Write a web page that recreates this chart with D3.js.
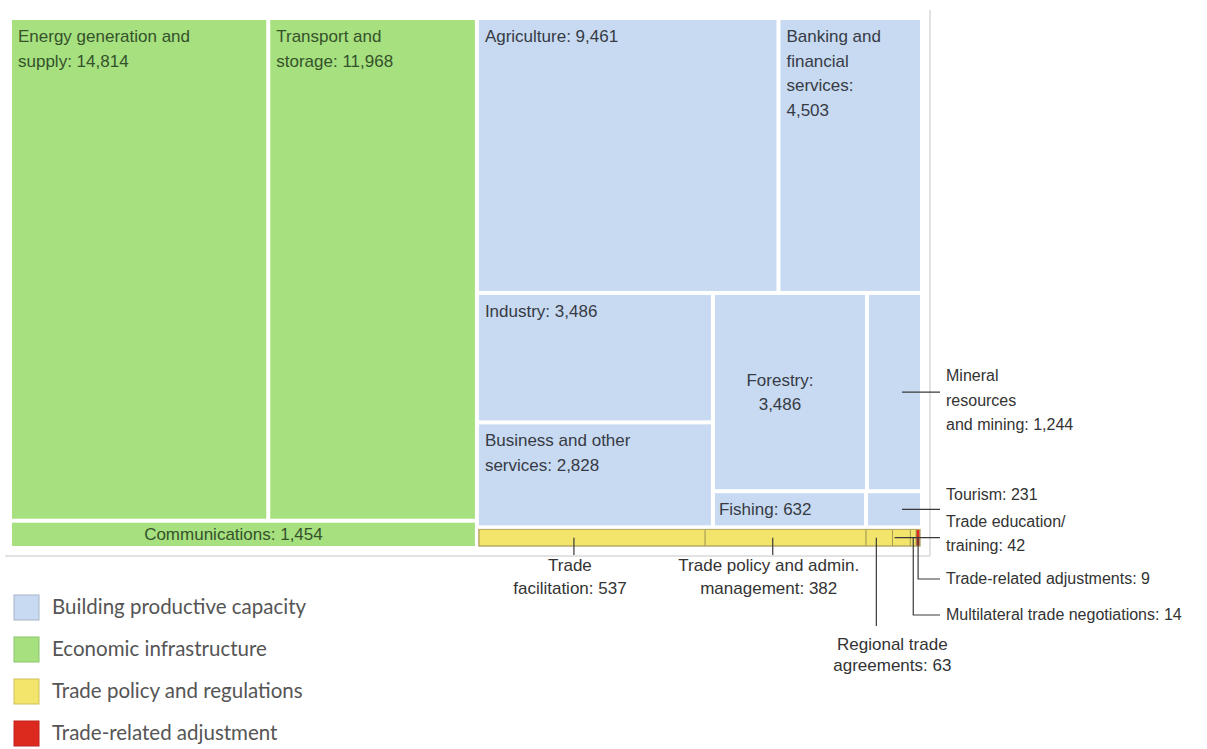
<!DOCTYPE html>
<html>
<head>
<meta charset="utf-8">
<script src="https://cdn.jsdelivr.net/npm/d3@7"></script>
<style>
  body { margin: 0; background: #fff; }
  svg { display: block; }
</style>
</head>
<body>
<svg id="chart" width="1207" height="749"></svg>
<script>
// ---- Aid for Trade commitments by sector ----
const infraNames = ["Energy generation and supply", "Transport and storage", "Communications"];
const infraValues = [14814, 11968, 1454];

const productiveNames = ["Agriculture", "Banking and financial services", "Industry",
  "Business and other services", "Forestry", "Mineral resources and mining", "Fishing", "Tourism"];
const productiveValues = [9461, 4503, 3486, 2828, 3486, 1244, 632, 231];

const policyNames = ["Trade facilitation", "Trade policy and admin. management",
  "Regional trade agreements", "Trade education/training", "Multilateral trade negotiations"];
const policyValues = [537, 382, 63, 42, 14];

const adjustmentNames = ["Trade-related adjustments"];
const adjustmentValues = [9];

const legendLabels = ["Building productive capacity", "Economic infrastructure",
  "Trade policy and regulations", "Trade-related adjustment"];

// Wrapped label text; "#" is replaced by the formatted value
const labelLines = {
  "Energy generation and supply": ["Energy generation and", "supply: #"],
  "Transport and storage": ["Transport and", "storage: #"],
  "Communications": ["Communications: #"],
  "Agriculture": ["Agriculture: #"],
  "Banking and financial services": ["Banking and", "financial", "services:", "#"],
  "Industry": ["Industry: #"],
  "Business and other services": ["Business and other", "services: #"],
  "Forestry": ["Forestry:", "#"],
  "Mineral resources and mining": ["Mineral", "resources", "and mining: #"],
  "Fishing": ["Fishing: #"],
  "Tourism": ["Tourism: #"],
  "Trade facilitation": ["Trade", "facilitation: #"],
  "Trade policy and admin. management": ["Trade policy and admin.", "management: #"],
  "Regional trade agreements": ["Regional trade", "agreements: #"],
  "Trade education/training": ["Trade education/", "training: #"],
  "Multilateral trade negotiations": ["Multilateral trade negotiations: #"],
  "Trade-related adjustments": ["Trade-related adjustments: #"]
};

// How each label is placed relative to its tile
const labelMode = {
  "Energy generation and supply": "topleft",
  "Transport and storage": "topleft",
  "Communications": "center",
  "Agriculture": "topleft",
  "Banking and financial services": "topleft",
  "Industry": "topleft",
  "Business and other services": "topleft",
  "Forestry": "center",
  "Fishing": "midleft",
  "Mineral resources and mining": "right",
  "Tourism": "right",
  "Trade education/training": "right",
  "Trade-related adjustments": "elbow",
  "Multilateral trade negotiations": "elbow",
  "Trade facilitation": "below",
  "Trade policy and admin. management": "below",
  "Regional trade agreements": "below"
};

const colors = {
  productive: "#c8daf1",
  infra: "#a6e07f",
  policy: "#f3e46c",
  adjust: "#dc2a1f"
};
const swatchStroke = {
  productive: "#a7b4c6",
  infra: "#8cc56c",
  policy: "#cfc25a",
  adjust: "#c0211a"
};
const legendKeys = ["productive", "infra", "policy", "adjust"];

const fmt = d3.format(",");

// ---- hierarchy: grouping nodes only steer the nested dice/slice layout ----
const leaf = (names, values, cat) => i => ({ name: names[i], value: values[i], cat });
const I = leaf(infraNames, infraValues, "infra");
const P = leaf(productiveNames, productiveValues, "productive");
const T = leaf(policyNames, policyValues, "policy");
const A = leaf(adjustmentNames, adjustmentValues, "adjust");

const tree = { dir: "h", children: [
  { dir: "v", children: [
    { dir: "h", children: [I(0), I(1)] },
    I(2)
  ]},
  { dir: "v", children: [
    { dir: "v", children: [
      { dir: "h", children: [P(0), P(1)] },
      { dir: "h", children: [
        { dir: "v", children: [P(2), P(3)] },
        { dir: "v", children: [
          { dir: "h", children: [P(4), P(5)] },
          { dir: "h", children: [P(6), P(7)] }
        ]}
      ]}
    ]},
    { dir: "h", strip: true, children: [T(0), T(1), T(2), T(3), T(4), A(0)] }
  ]}
]};

const area = { x: 12, y: 20, w: 908, h: 526 };

const root = d3.hierarchy(tree).sum(d => d.value || 0);
d3.treemap()
  .size([area.w, area.h])
  .paddingInner(n => n.data.strip ? 0 : 4)
  .tile((node, x0, y0, x1, y1) =>
    (node.data.dir === "h" ? d3.treemapDice : d3.treemapSlice)(node, x0, y0, x1, y1))
  (root);

const svg = d3.select("#chart");

// light frame on the right and bottom
const frame = { right: 930, bottom: 556, top: 10, left: 5 };
svg.append("line").attr("x1", frame.right).attr("x2", frame.right)
  .attr("y1", frame.top).attr("y2", frame.bottom)
  .attr("stroke", "#e2e2e2").attr("stroke-width", 2);
svg.append("line").attr("x1", frame.left).attr("x2", frame.right)
  .attr("y1", frame.bottom).attr("y2", frame.bottom)
  .attr("stroke", "#e2e2e2").attr("stroke-width", 2);

const g = svg.append("g").attr("transform", `translate(${area.x},${area.y})`);

const leaves = root.leaves();

g.selectAll("rect.tile")
  .data(leaves)
  .join("rect")
  .attr("class", "tile")
  .attr("x", d => d.x0)
  .attr("y", d => d.y0)
  .attr("width", d => Math.max(0, d.x1 - d.x0))
  .attr("height", d => Math.max(0, d.y1 - d.y0))
  .attr("fill", d => colors[d.data.cat])
  .attr("stroke", d => (d.data.cat === "policy" || d.data.cat === "adjust") ? "#9f9350" : "none")
  .attr("stroke-width", 0.8);

// outline of the trade-policy strip
const strip = root.descendants().find(d => d.data.strip);
g.append("rect")
  .attr("x", strip.x0).attr("y", strip.y0)
  .attr("width", strip.x1 - strip.x0).attr("height", strip.y1 - strip.y0)
  .attr("fill", "none").attr("stroke", "#b9ad6a").attr("stroke-width", 1);

// ---- labels ----
const fontFamily = "'Liberation Sans', Arial, sans-serif";
const innerSize = 17;      // labels inside tiles and below the strip
const calloutSize = 16;    // labels to the right of the chart
const lineH = 24.5;
const calloutX = frame.right + 16;     // start of right-hand callout text
const leader = "#3a3a3a";

function lines(d) {
  return labelLines[d.data.name].map(s => s.replace("#", fmt(d.data.value)));
}
function textColor(d) {
  return d.data.cat === "infra" ? "#35522b" : "#363b45";
}
function addText(sel, arr, x, y, anchor, color, size, lh = lineH) {
  const t = sel.append("text")
    .attr("font-family", fontFamily)
    .attr("font-size", size)
    .attr("fill", color)
    .attr("text-anchor", anchor);
  arr.forEach((s, i) => t.append("tspan").attr("x", x).attr("y", y + i * lh).text(s));
  return t;
}
function line(pts) {
  g.append("path")
    .attr("d", d3.line()(pts))
    .attr("fill", "none")
    .attr("stroke", leader)
    .attr("stroke-width", 1.2);
}

const ox = area.x;

leaves.forEach(d => {
  const mode = labelMode[d.data.name];
  const L = lines(d);
  const cx = (d.x0 + d.x1) / 2, cy = (d.y0 + d.y1) / 2;
  const tx = calloutX - ox;   // callout text x in group coords
  if (mode === "topleft") {
    addText(g, L, d.x0 + 6, d.y0 + 22, "start", textColor(d), innerSize);
  } else if (mode === "center") {
    const y = cy - (L.length - 1) * lineH / 2 + 6;
    addText(g, L, cx - 10, y, "middle", textColor(d), innerSize);
  } else if (mode === "midleft") {
    addText(g, L, d.x0 + 4, cy + 6, "start", textColor(d), innerSize);
  } else if (mode === "right") {
    const ly = cy;
    line([[Math.max(d.x0 + 2, d.x1 - 18), ly], [tx - 6, ly]]);
    const y0 = L.length === 1 ? ly - 9 : ly - 11;
    addText(g, L, tx, y0, "start", "#333", calloutSize);
  } else if (mode === "elbow") {
    const drop = d.data.cat === "adjust" ? 33 : 69;
    const yEnd = d.y1 + drop;
    line([[cx, cy], [cx, yEnd], [tx - 6, yEnd]]);
    addText(g, L, tx, yEnd + 5, "start", "#333", calloutSize);
  } else if (mode === "below") {
    if (d.data.name === "Regional trade agreements") {
      const lx = cx - 3;
      line([[lx, cy], [lx, d.y1 + 80]]);
      addText(g, L, lx + 16, d.y1 + 104, "middle", "#333", innerSize, 21);
    } else {
      const lx = d.x0 + (d.x1 - d.x0) * 0.42;
      line([[lx, cy], [lx, d.y1 + 9]]);
      addText(g, L, lx - 4, d.y1 + 25, "middle", "#333", innerSize, 23);
    }
  }
});

// ---- legend ----
const legend = svg.append("g").attr("transform", "translate(14,595)");
const rowGap = 42;
legendKeys.forEach((k, i) => {
  const row = legend.append("g").attr("transform", `translate(0,${i * rowGap})`);
  row.append("rect")
    .attr("width", 25).attr("height", 25)
    .attr("fill", colors[k])
    .attr("stroke", swatchStroke[k]).attr("stroke-width", 1);
  row.append("text")
    .attr("x", 38).attr("y", 19)
    .attr("font-family", "Lato, 'Open Sans', sans-serif")
    .attr("font-size", 20.5)
    .attr("fill", "#555")
    .text(legendLabels[i]);
});
</script>
</body>
</html>
